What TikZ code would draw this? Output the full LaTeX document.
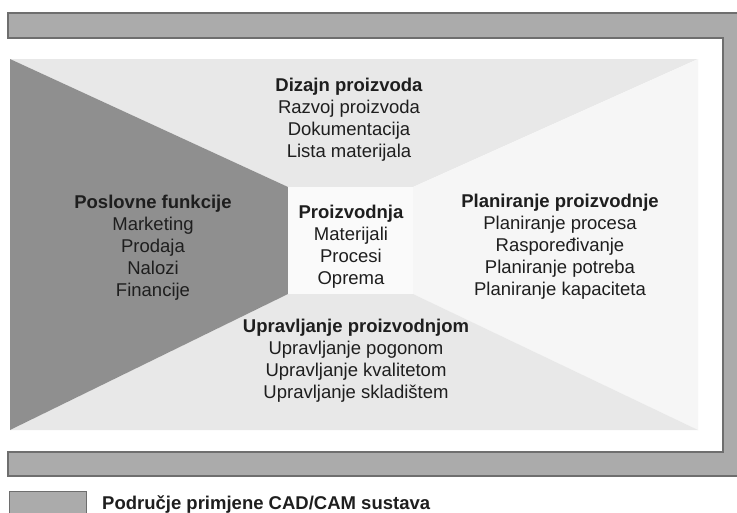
\documentclass[tikz,border=0pt]{standalone}
\usepackage{fontspec}
\setmainfont{Liberation Sans}
\definecolor{band}{HTML}{ABABAB}
\definecolor{bandline}{HTML}{6E6E6E}
\definecolor{leftgray}{HTML}{8F8F8F}
\definecolor{lightgray}{HTML}{E8E8E8}
\definecolor{rightgray}{HTML}{F6F6F6}
\definecolor{centergray}{HTML}{FAFAFA}
\definecolor{txt}{HTML}{1E1E1E}
\begin{document}
\begin{tikzpicture}[x=1pt,y=-1pt,
  lbl/.style={align=center, inner sep=0pt, text=txt, font=\fontsize{18.5}{22}\selectfont},
  outline/.style={draw=bandline, line width=1.1pt}]
\useasboundingbox (0,0) rectangle (737,512);
% CAD/CAM band (top, right, bottom)
\fill[band] (8,13) rectangle (745,476);
\fill[white] (0,38) rectangle (723,452);
\draw[outline] (745,13) -- (8,13) -- (8,38) -- (723,38) -- (723,452) -- (8,452) -- (8,476) -- (745,476);
% regions
\coordinate (tl) at (10,59);
\coordinate (tr) at (698,59);
\coordinate (br) at (698,430);
\coordinate (bl) at (10,430);
\coordinate (ctl) at (288,187);
\coordinate (ctr) at (413,187);
\coordinate (cbr) at (413,294);
\coordinate (cbl) at (288,294);
\fill[lightgray] (tl) -- (tr) -- (ctr) -- (ctl) -- cycle;
\fill[rightgray] (tr) -- (br) -- (cbr) -- (ctr) -- cycle;
\fill[lightgray] (bl) -- (br) -- (cbr) -- (cbl) -- cycle;
\fill[leftgray] (tl) -- (ctl) -- (cbl) -- (bl) -- cycle;
\fill[centergray] (ctl) rectangle (cbr);
% texts
\node[lbl] (dizajn) at (349,120) {\textbf{Dizajn proizvoda}\\Razvoj proizvoda\\Dokumentacija\\Lista materijala};
\node[lbl] (poslovne) at (153,248) {\textbf{Poslovne funkcije}\\Marketing\\Prodaja\\Nalozi\\Financije};
\node[lbl] (proizvodnja) at (351,247) {\textbf{Proizvodnja}\\Materijali\\Procesi\\Oprema};
\node[lbl] (planiranje) at (560,247) {\textbf{Planiranje proizvodnje}\\Planiranje procesa\\Raspoređivanje\\Planiranje potreba\\Planiranje kapaciteta};
\node[lbl] (upravljanje) at (356,361) {\textbf{Upravljanje proizvodnjom}\\Upravljanje pogonom\\Upravljanje kvalitetom\\Upravljanje skladištem};
% legend
\node[draw=bandline, fill=band, line width=0.8pt, minimum width=77pt, minimum height=26pt, inner sep=0pt, anchor=north west] (legendbox) at (9,491) {};
\node[anchor=base west, inner sep=0pt, text=txt, font=\fontsize{18.5}{22}\selectfont\bfseries] (legendtext) at (102,509) {Područje primjene CAD/CAM sustava};
\end{tikzpicture}
\end{document}
